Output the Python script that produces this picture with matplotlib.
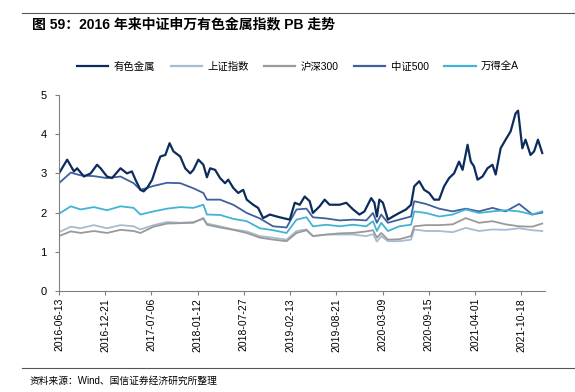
import matplotlib
matplotlib.use("Agg")
import matplotlib.pyplot as plt
from matplotlib.lines import Line2D

plt.rcParams['font.family'] = ['Liberation Sans', 'Noto Sans CJK SC', 'DejaVu Sans']

# trading-day index of tick labels (every 130 trading days)
tick_days = [0, 130, 260, 390, 520, 650, 780, 910, 1040, 1170, 1300]
tick_labels = ['2016-06-13', '2016-12-21', '2017-07-06', '2018-01-12', '2018-07-27',
               '2019-02-13', '2019-08-21', '2020-03-09', '2020-09-15', '2021-04-01',
               '2021-10-18']

# 有色金属 PB
metal_days = [0, 23, 42, 51, 70, 89, 107, 117, 135, 149, 173, 191, 205, 215, 229, 238, 248,
              262, 276, 285, 299, 311, 322, 341, 355, 369, 378, 392, 406, 416, 425, 439,
              453, 467, 476, 490, 504, 518, 528, 546, 560, 574, 593, 612, 630, 649, 663,
              677, 691, 705, 714, 733, 747, 761, 789, 808, 827, 845, 859, 878, 887, 894,
              901, 911, 925, 939, 957, 976, 990, 999, 1013, 1027, 1041, 1055, 1069, 1083,
              1097, 1111, 1125, 1135, 1149, 1158, 1167, 1177, 1191, 1205, 1219, 1228,
              1242, 1256, 1270, 1284, 1291, 1303, 1312, 1326, 1336, 1347, 1359]
metal_pb = [3.0, 3.35, 3.05, 3.13, 2.92, 3.0, 3.22, 3.13, 2.92, 2.88, 3.13, 3.0, 3.05, 2.84,
            2.58, 2.54, 2.63, 2.84, 3.22, 3.43, 3.47, 3.77, 3.56, 3.43, 3.13, 3.0, 3.09,
            3.35, 3.22, 2.9, 3.13, 3.09, 2.88, 2.75, 2.84, 2.63, 2.5, 2.58, 2.33, 2.2, 2.12,
            1.86, 1.95, 1.9, 1.86, 1.82, 2.25, 2.2, 2.41, 2.29, 1.99, 2.16, 2.33, 2.2, 2.2,
            2.25, 2.08, 1.95, 2.03, 2.37, 2.25, 1.9, 2.33, 2.25, 1.82, 1.9, 1.99, 2.08, 2.2,
            2.67, 2.8, 2.58, 2.5, 2.33, 2.33, 2.67, 2.88, 3.0, 3.3, 3.09, 3.73, 3.3, 3.18,
            2.84, 2.92, 3.13, 3.22, 2.97, 3.64, 3.86, 4.07, 4.53, 4.6, 3.64, 3.86, 3.47,
            3.56, 3.86, 3.52]

# broad indices sampled on a shared day grid
idx_days = [0, 33, 61, 98, 135, 173, 210, 229, 266, 304, 341, 378, 406, 416, 453, 490, 528,
            565, 602, 640, 668, 696, 714, 752, 789, 827, 864, 883, 894, 906, 925, 957, 990,
            999, 1032, 1069, 1107, 1144, 1181, 1219, 1256, 1294, 1331, 1359]
sh_pb = [1.5, 1.64, 1.6, 1.68, 1.6, 1.68, 1.65, 1.57, 1.68, 1.76, 1.74, 1.76, 1.84, 1.72,
         1.65, 1.57, 1.52, 1.4, 1.36, 1.31, 1.53, 1.57, 1.4, 1.44, 1.44, 1.44, 1.4, 1.45,
         1.26, 1.4, 1.27, 1.27, 1.31, 1.57, 1.53, 1.53, 1.5, 1.61, 1.53, 1.57, 1.56, 1.6,
         1.55, 1.53]
hs300_pb = [1.4, 1.52, 1.48, 1.53, 1.48, 1.56, 1.53, 1.48, 1.64, 1.72, 1.73, 1.74, 1.86,
            1.69, 1.62, 1.56, 1.48, 1.36, 1.31, 1.27, 1.48, 1.55, 1.4, 1.44, 1.47, 1.48,
            1.52, 1.55, 1.36, 1.48, 1.31, 1.32, 1.4, 1.65, 1.68, 1.68, 1.7, 1.86, 1.74,
            1.78, 1.7, 1.65, 1.64, 1.72]
zz500_pb = [2.75, 3.02, 2.95, 2.93, 2.88, 2.92, 2.75, 2.58, 2.68, 2.76, 2.75, 2.62, 2.5,
            2.33, 2.33, 2.2, 1.99, 1.85, 1.65, 1.62, 2.08, 2.1, 1.88, 1.85, 1.8, 1.82, 1.8,
            1.99, 1.74, 1.95, 1.74, 1.82, 1.9, 2.29, 2.22, 2.1, 2.03, 2.1, 2.03, 2.12, 2.03,
            2.22, 1.95, 2.0]
wind_a_pb = [1.97, 2.16, 2.08, 2.14, 2.06, 2.16, 2.12, 1.95, 2.03, 2.1, 2.14, 2.12, 2.2,
             1.95, 1.94, 1.84, 1.78, 1.6, 1.55, 1.48, 1.82, 1.88, 1.65, 1.69, 1.65, 1.69,
             1.65, 1.78, 1.53, 1.74, 1.53, 1.65, 1.69, 2.03, 1.99, 1.9, 1.95, 2.08, 1.99,
             2.03, 2.06, 2.03, 1.95, 2.03]

series = [
    ('有色金属', metal_days, metal_pb, '#0c2c5c', 1.6),
    ('上证指数', idx_days, sh_pb, '#a6bccf', 1.3),
    ('沪深300', idx_days, hs300_pb, '#999999', 1.3),
    ('中证500', idx_days, zz500_pb, '#40609c', 1.3),
    ('万得全A', idx_days, wind_a_pb, '#43b3d3', 1.3),
]

fig = plt.figure(figsize=(5.75, 3.92), dpi=100)
ax = fig.add_axes([0.1026, 0.2577, 0.846, 0.5])

# draw broad indices first, metal line on top
for name, d, v, c, lw in series[1:]:
    ax.plot(d, v, color=c, linewidth=lw)
ax.plot(series[0][1], series[0][2], color=series[0][3], linewidth=series[0][4])

ax.set_xlim(0, 1368)
ax.set_ylim(0, 5)
ax.set_yticks([0, 1, 2, 3, 4, 5])
ax.set_xticks(tick_days)
ax.set_xticklabels(tick_labels, rotation=90, fontsize=7.5)
ax.tick_params(axis='y', labelsize=8, length=3, color='#808080', pad=6)
ax.tick_params(axis='x', length=3, color='#808080', pad=2)
for s in ['top', 'right']:
    ax.spines[s].set_visible(False)
for s in ['left', 'bottom']:
    ax.spines[s].set_color('#808080')
    ax.spines[s].set_linewidth(0.8)

handles = [Line2D([], [], color=c, linewidth=1.6) for _, _, _, c, _ in series]
fig.legend(handles, [s[0] for s in series], loc='center', bbox_to_anchor=(0.518, 0.83),
           ncol=5, frameon=False, fontsize=7.5, handlelength=3.0, handletextpad=0.5,
           columnspacing=1.5)

# title and source with rules
fig.add_artist(Line2D([22 / 575, 1], [1 - 12.5 / 392] * 2, color='#555555', linewidth=0.8))
fig.text(32 / 575, 1 - 24 / 392, '图 59：2016 年来中证申万有色金属指数 PB 走势',
         fontsize=10, fontweight='bold', va='center', ha='left')
fig.add_artist(Line2D([22 / 575, 1], [1 - 368 / 392] * 2, color='#555555', linewidth=0.8))
fig.text(30 / 575, 1 - 381 / 392, '资料来源：Wind、国信证券经济研究所整理',
         fontsize=7, va='center', ha='left')

fig.savefig('out.png', dpi=100)
